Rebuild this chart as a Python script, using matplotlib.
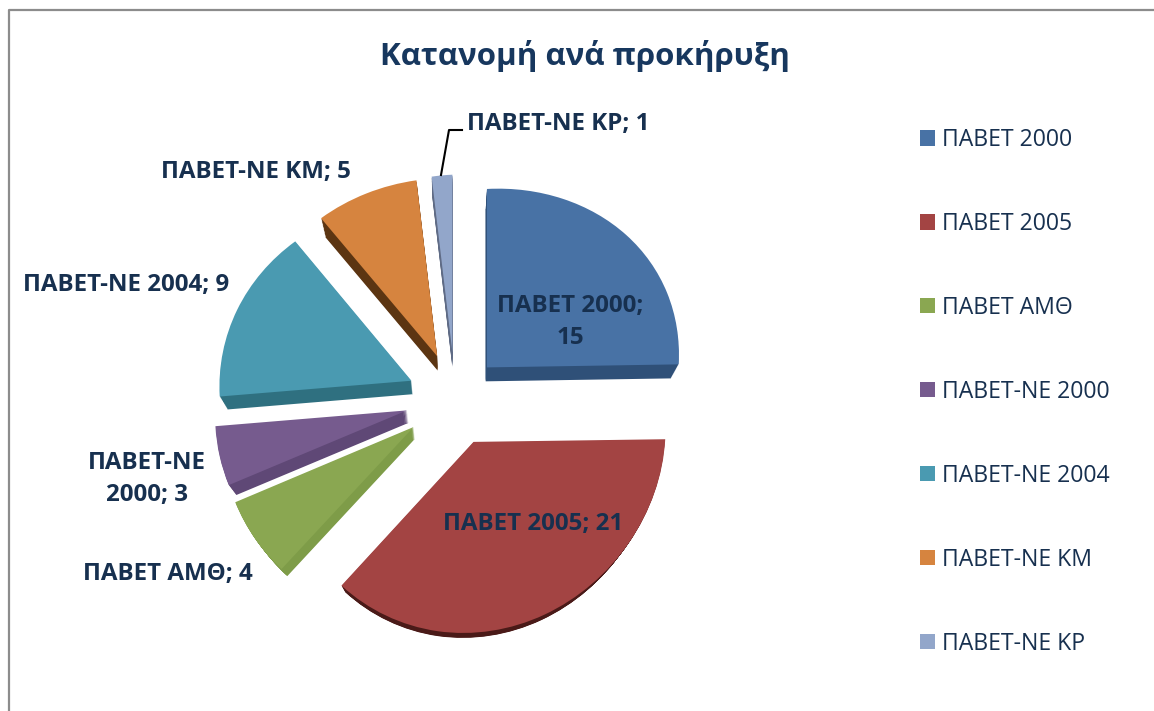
import matplotlib
matplotlib.use('Agg')
import matplotlib.pyplot as plt
from matplotlib.lines import Line2D
from matplotlib.transforms import Affine2D, Transform
import numpy as np

plt.rcParams['font.family'] = ['Open Sans', 'DejaVu Sans']

categories = ['ΠΑΒΕΤ 2000', 'ΠΑΒΕΤ 2005', 'ΠΑΒΕΤ ΑΜΘ', 'ΠΑΒΕΤ-ΝΕ 2000',
              'ΠΑΒΕΤ-ΝΕ 2004', 'ΠΑΒΕΤ-ΝΕ ΚΜ', 'ΠΑΒΕΤ-ΝΕ ΚΡ']
values = [15, 21, 4, 3, 9, 5, 1]
face_colors = ['#4872a5', '#a34443', '#8aa751', '#765b8e', '#4a9ab1', '#d6843f', '#92a6ca']
side_colors = ['#2f5078', '#4a1a18', '#7e9c48', '#5f4876', '#2f7080', '#5c3512', '#5f6b85']
explode = [44, 50, 50, 49, 48, 48, 48]

TEXT = '#17304f'
H = 711
CX, CY, R = 455, H - 398, 192


def py(y):
    return H - y


class Perspective(Transform):
    """Far side of the pie a bit smaller, near side a bit bigger"""
    input_dims = 2
    output_dims = 2

    def transform_non_affine(self, xy):
        xy = np.asarray(xy, dtype=float)
        x = xy[:, 0] - CX
        y = xy[:, 1] - CY
        y2 = y - 1.3e-4 * y ** 2 + 7e-5 * x ** 2
        return np.column_stack([x + CX, y2 + CY])


fig = plt.figure(figsize=(11.54, 7.11), dpi=100)
ax = fig.add_axes([0, 0, 1, 1])

# tilt of the pie, plus the sides pulled towards a vanishing point below it
tilt = (Affine2D().translate(-CX, -CY)
        + Affine2D.from_values(1, 0.05, 0, 0.96, 0, 0)
        + Affine2D().translate(CX, CY)
        + Perspective())
VX, VY = 450, H - 777

for step in range(14, 0, -1):
    side = ax.pie(values, explode=explode, colors=side_colors, startangle=90,
                  counterclock=False, center=(CX, CY), radius=R)[0]
    shrink = Affine2D().translate(-VX, -VY).scale(1 - 0.034 * step / 14).translate(VX, VY)
    for w in side:
        w.set_transform(tilt + shrink + ax.transData)

wedges = ax.pie(values, explode=explode, colors=face_colors, startangle=90,
                counterclock=False, center=(CX, CY), radius=R)[0]
for w in wedges:
    w.set_transform(tilt + ax.transData)

ax.set_xlim(0, 1154)
ax.set_ylim(0, H)
ax.set_aspect('auto')
ax.axis('off')

ax.text(585, py(56), 'Κατανομή ανά προκήρυξη', fontsize=22.5, fontweight='bold',
        color='#17375e', ha='center', va='center')

LABEL = dict(fontsize=17.4, fontweight='bold', color=TEXT, ha='center', va='center',
             linespacing=1.47)
ax.text(570, py(322), f'{categories[0]};\n{values[0]}', **LABEL)
ax.text(533, py(524), f'{categories[1]}; {values[1]}', **LABEL)
ax.text(168, py(574), f'{categories[2]}; {values[2]}', **LABEL)
ax.text(147, py(479), f'ΠΑΒΕΤ-ΝΕ\n2000; {values[3]}', **LABEL)
ax.text(126, py(285), f'{categories[4]}; {values[4]}', **LABEL)
ax.text(256, py(172), f'{categories[5]}; {values[5]}', **LABEL)
ax.text(558, py(124), f'{categories[6]}; {values[6]}', **LABEL)

ax.plot([441, 449, 462], [py(175), py(130), py(130)], color='black', lw=1.5)

leg = ax.legend(wedges, categories, loc='upper left', bbox_to_anchor=(920 / 1154, py(128) / H),
                frameon=False, fontsize=16.6, labelcolor=TEXT, labelspacing=2.6,
                handlelength=0.65, handleheight=0.65, handletextpad=0.3, borderpad=0,
                borderaxespad=0)

# outer frame, only the top and left edges are in the crop
fig.add_artist(Line2D([9 / 1154, 9 / 1154, 1], [0, py(10) / H, py(10) / H],
                      color='#8c8c8c', lw=1.6))

fig.savefig('out.png', dpi=100)
